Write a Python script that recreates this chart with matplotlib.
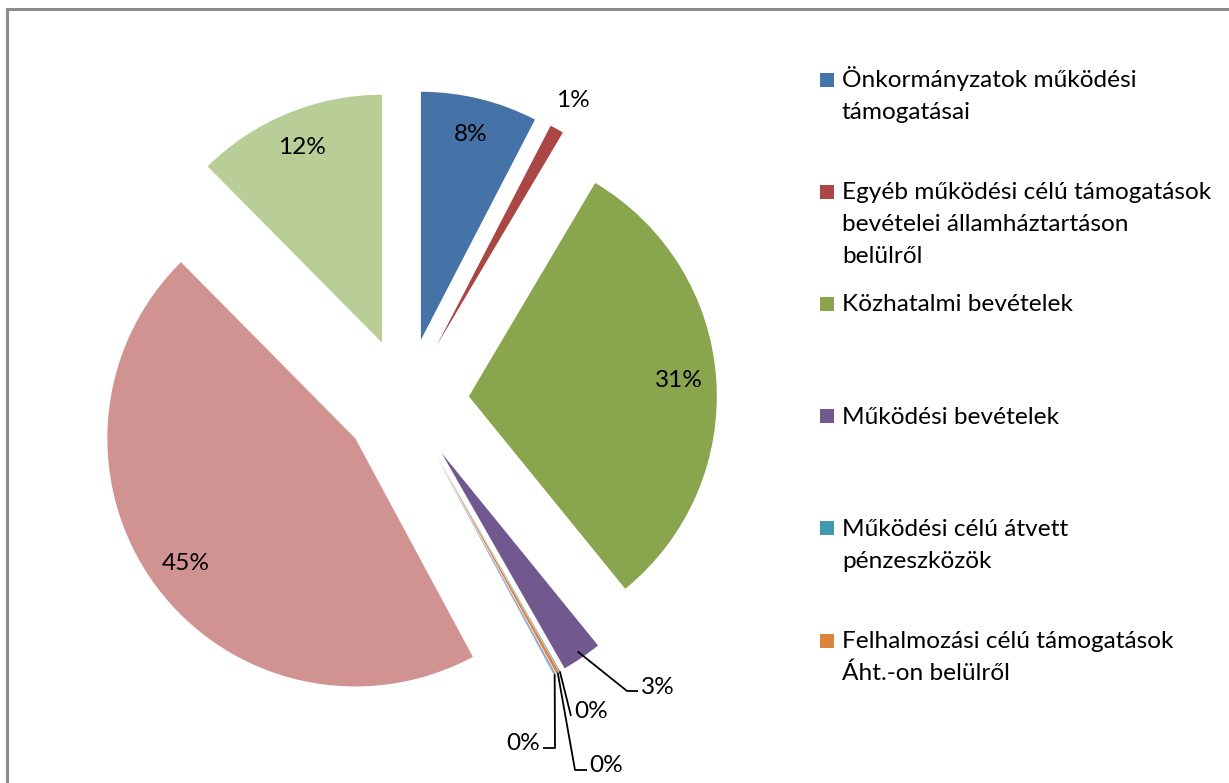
import numpy as np
import matplotlib.pyplot as plt
from matplotlib.patches import Rectangle

# Data (shares in %)
categories = [
    "Önkormányzatok működési\ntámogatásai",
    "Egyéb működési célú támogatások\nbevételei államháztartáson\nbelülről",
    "Közhatalmi bevételek",
    "Működési bevételek",
    "Működési célú átvett\npénzeszközök",
    "Felhalmozási célú támogatások\nÁht.-on belülről",
    "Felhalmozási bevételek",
    "Finanszírozási bevételek",
    "Maradvány",
]
shares = [7.6, 0.9, 30.6, 2.6, 0.05, 0.2, 0.15, 45.4, 12.4]
pct_labels = ["8%", "1%", "31%", "3%", "0%", "0%", "0%", "45%", "12%"]
colors = ["#4572A7", "#AA4643", "#89A54E", "#71588F", "#4198AF",
          "#DB843D", "#93A9CF", "#D19392", "#B9CD96"]

plt.rcParams['font.family'] = ['Lato', 'DejaVu Sans']
FS = 17.6

W, H = 1229, 783
fig = plt.figure(figsize=(W / 100, H / 100), dpi=100)
ax = fig.add_axes([0, 0, 1, 1])

R = 248
wedges, _ = ax.pie(shares, explode=[63] * len(shares), radius=R, center=(406, H - 401),
                   startangle=90, counterclock=False, colors=colors,
                   wedgeprops=dict(linewidth=0))
ax.set_xlim(0, W)
ax.set_ylim(0, H)
ax.set_aspect('equal')
ax.axis('off')


def wedge_dir(w):
    t = np.deg2rad((w.theta1 + w.theta2) / 2)
    return np.array([np.cos(t), np.sin(t)])


# labels inside the big slices
for i in [0, 2, 7, 8]:
    w = wedges[i]
    p = np.array(w.center) + 0.85 * R * wedge_dir(w)
    ax.text(p[0], p[1], pct_labels[i], ha='center', va='center', fontsize=FS)

# 1% just outside
w = wedges[1]
p = np.array(w.center) + 1.13 * R * wedge_dir(w)
ax.text(p[0], p[1], pct_labels[1], ha='center', va='center', fontsize=FS)

# leader-line labels (pixel positions from top-left)
leaders = {
    3: ([(627, 691), (638, 691)], (641, 688), 'left'),
    4: ([(571, 716)], (574, 712), 'left'),
    5: ([(575, 770), (587, 770)], (589, 766), 'left'),
    6: ([(555, 748), (543, 748)], (540, 744), 'right'),
}
anchor_r = {3: 0.97, 4: 1.0, 5: 1.0, 6: 1.0}
for i, (pts, tpos, ha) in leaders.items():
    w = wedges[i]
    a = np.array(w.center) + anchor_r[i] * R * wedge_dir(w)
    xs = [a[0]] + [q[0] for q in pts]
    ys = [a[1]] + [H - q[1] for q in pts]
    ax.plot(xs, ys, color='black', linewidth=1.3, solid_capstyle='butt')
    ax.text(tpos[0], H - tpos[1], pct_labels[i], ha=ha, va='center', fontsize=FS)

# legend (Excel clips the entries that do not fit)
for i in range(6):
    base = 87 + i * 112.2
    ax.add_patch(Rectangle((820, H - base + 0.5), 14, 14, color=colors[i], linewidth=0))
    for k, line in enumerate(categories[i].split("\n")):
        ax.text(842, H - base - k * 32, line, ha='left', va='baseline', fontsize=FS)

# chart area border
ax.add_patch(Rectangle((7, -20), W + 50, H - 9 + 20, fill=False,
                       edgecolor='#8c8c8c', linewidth=2.2, clip_on=True))

fig.savefig("out.png", dpi=100)
